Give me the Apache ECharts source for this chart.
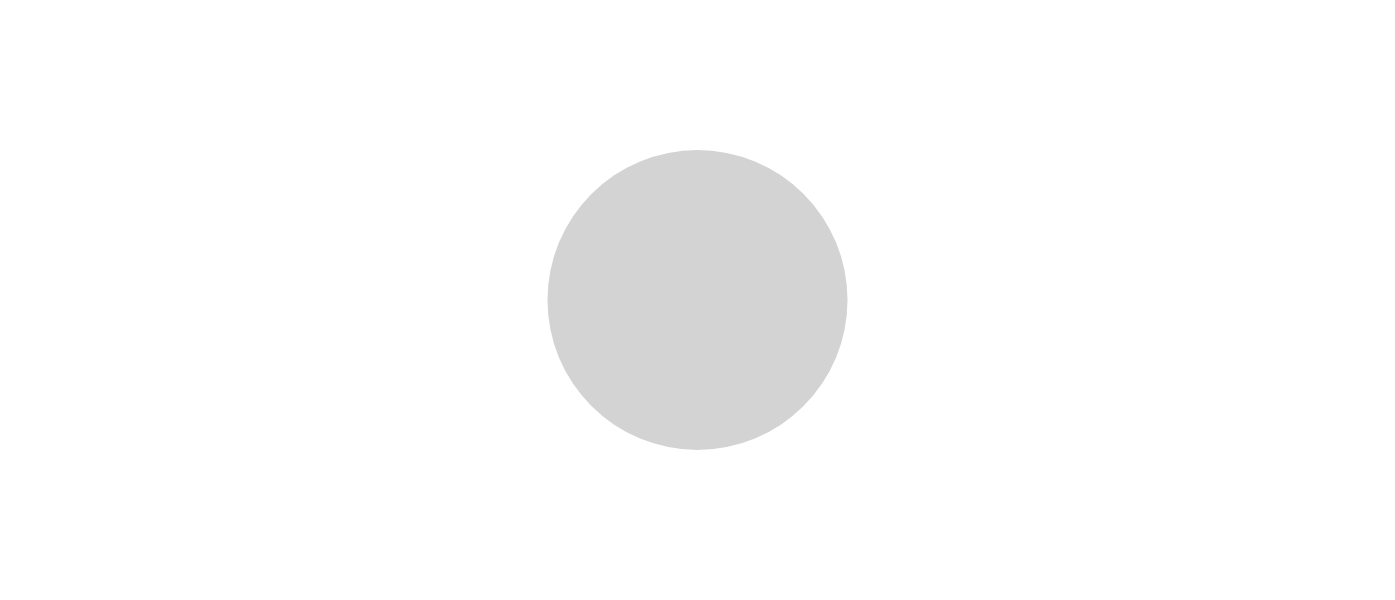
<!DOCTYPE html>
<html><head><meta charset="utf-8">
<script src="https://cdn.jsdelivr.net/npm/echarts@6/dist/echarts.min.js"></script>
<style>html,body{margin:0;padding:0;background:#fff}#c{width:1395px;height:600px}</style>
</head><body><div id="c"></div>
<script>
// The reference picture is blank: no categories, no values.
const categories = [];
const values = [];
const chart = echarts.init(document.getElementById('c'));
chart.setOption({
  backgroundColor: '#ffffff',
  series: [{ type: 'pie', data: values, label: { show: false } }]
});
</script></body></html>
